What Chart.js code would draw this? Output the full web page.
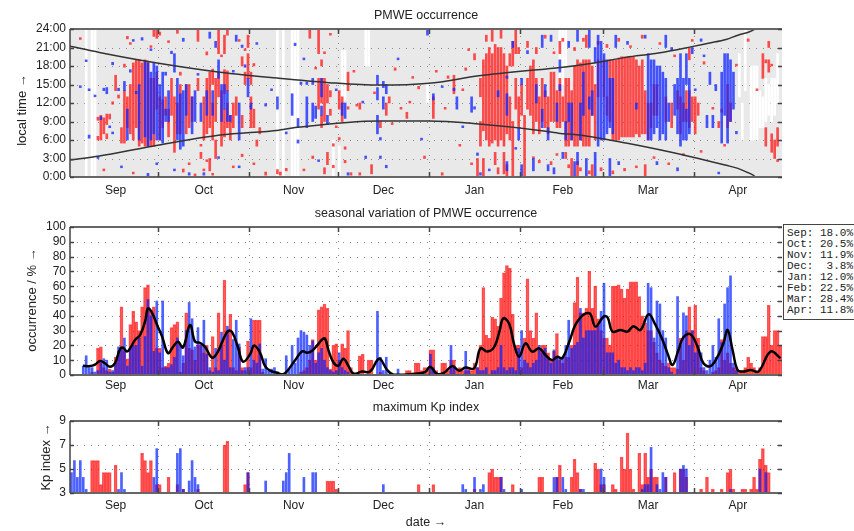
<!DOCTYPE html>
<html>
<head>
<meta charset="utf-8">
<script src="https://cdn.jsdelivr.net/npm/chart.js@4"></script>
<style>
  body { margin: 0; width: 854px; height: 531px; position: relative; overflow: hidden; background: #fff;
         font-family: "Liberation Sans", Arial, sans-serif; color: #222; }
  canvas { position: absolute; left: 0; }
  .ttl { position: absolute; left: 0; width: 852px; text-align: center; font-size: 12.5px; line-height: 14px; }
  .ytl { position: absolute; transform: translate(-50%, -50%) rotate(-90deg); white-space: nowrap; font-size: 13px; }
  #monthBox { position: absolute; left: 783px; top: 224px; width: 80px; height: 96px; box-sizing: border-box;
              border: 1px solid #444; padding: 3px 0 0 3px; font: 11px/11px "Liberation Mono", monospace;
              white-space: pre; background: #fff; }
</style>
</head>
<body>
<canvas id="pmwe" width="854" height="200" style="top:0px"></canvas>
<canvas id="season" width="854" height="200" style="top:195px"></canvas>
<canvas id="kp" width="854" height="120" style="top:395px"></canvas>

<div class="ttl" style="top:8px">PMWE occurrence</div>
<div class="ttl" style="top:206px">seasonal variation of PMWE occurrence</div>
<div class="ttl" style="top:400px">maximum Kp index</div>
<div class="ttl" style="top:515px">date →</div>
<div class="ytl" style="left:21px; top:110px">local time →</div>
<div class="ytl" style="left:31px; top:300px">occurrence / % →</div>
<div class="ytl" style="left:45px; top:457px">Kp index →</div>
<div id="monthBox"></div>

<script>
// days are counted from 1 Sep (day 0) to 1 May (day 242)
const monthNames = ['Sep', 'Oct', 'Nov', 'Dec', 'Jan', 'Feb', 'Mar', 'Apr'];
const monthStarts = [0, 30, 61, 91, 122, 153, 181, 212, 242];
const monthMid = [15.5, 45.5, 76, 106.5, 137.5, 167.5, 196.5, 227];
const monthPct = ['18.0', '20.5', '11.9', '3.8', '12.0', '22.5', '28.4', '11.8'];

// top panel: detection intervals [day, from h, to h]
const redSegs = [
  [9,6.0,6.6],[9,9.2,9.7],[10,6.0,10.0],[11,7.0,9.6],[12,6.2,7.0],[12,8.5,10.2],[13,9.4,10.2],[14,11.8,12.2],
  [15,14.0,16.5],[16,12.8,13.3],[17,5.5,8.0],[18,5.5,14.0],[18,17.8,18.3],[19,22.4,22.8],[19,8.0,13.0],
  [20,7.0,15.0],[20,21.5,21.8],[21,6.0,18.5],[22,8.0,19.0],[23,5.0,19.0],[24,5.5,18.5],[25,5.0,19.0],
  [26,5.0,18.8],[27,5.0,16.0],[28,5.0,16.0],[28,22.8,24.0],[29,11.0,17.0],[29,22.5,24.0],
  [30,6.0,13.0],[31,8.0,12.5],[32,10.0,13.0],[33,6.5,11.0],[34,10.0,16.0],[35,4.0,13.0],[36,7.0,12.0],
  [36,23.3,23.9],[37,7.0,15.0],[38,0.8,1.3],[39,7.0,15.0],[40,8.0,15.0],[41,9.0,13.0],[42,0.0,0.5],
  [43,22.0,24.0],[43,14.0,16.0],[44,3.0,4.0],[45,6.0,13.0],[46,7.0,16.0],[46,19.8,20.3],[47,8.0,17.0],
  [47,1.0,3.0],[48,15.0,17.5],[48,6.0,12.0],[49,3.0,6.0],[49,9.0,16.0],[50,20.0,24.0],[50,13.0,17.0],
  [51,5.0,14.0],[52,6.5,11.0],[52,20.0,23.0],[52,13.5,17.4],[53,14.0,17.2],[53,8.0,12.0],[54,6.0,10.0],
  [55,8.0,12.0],[56,10.0,13.0],[58,18.0,19.5],[58,8.0,10.0],[58,3.3,3.7],[59,15.0,17.0],[60,16.0,20.0],
  [60,21.0,23.0],[61,15.0,17.0],[61,8.0,13.0],[62,8.0,11.0],[62,18.0,18.4],[63,5.0,6.0],[64,7.0,8.0],
  [66,0.3,0.8],[70,0.5,1.2],[71,0.3,0.8],[73,1.0,1.4],[81,22.5,24.0],[82,3.0,3.4],[84,20.0,24.0],
  [84,11.0,16.0],[85,18.0,19.0],[85,12.0,16.0],[85,8.0,10.0],[86,0.5,1.5],[86,9.0,16.0],[87,12.0,15.0],
  [87,2.0,4.0],[88,10.0,11.0],[88,13.0,14.0],[89,5.0,5.4],[89,1.5,1.9],[91,11.0,14.0],[91,6.0,6.4],
  [92,9.0,13.0],[93,4.5,4.9],[93,2.3,2.7],[94,14.0,17.0],[94,11.0,11.4],[95,0.3,0.7],[98,11.0,12.0],
  [98,0.3,0.7],[102,0.5,2.0],[105,8.0,9.0],[107,10.0,12.0],[108,12.0,13.0],[110,17.3,17.7],[114,9.5,10.5],
  [115,12.0,12.3],[118,14.3,14.7],[120,3.0,3.4],[123,9.5,13.0],[126,0.3,0.7],[128,16.0,16.4],[130,13.5,16.5],
  [133,14.0,14.3],[134,17.3,17.7],[137,19.0,20.0],[138,0.0,3.0],[139,13.0,16.0],[139,5.0,9.0],[140,7.5,19.0],
  [140,0.0,3.0],[141,6.0,20.0],[142,5.0,21.0],[143,5.5,20.0],[143,22.0,24.0],[144,6.0,21.5],[145,5.0,21.0],
  [146,6.0,21.0],[146,22.5,24.0],[147,5.0,20.0],[147,0.5,4.0],[148,7.0,18.0],[148,0.0,2.0],[149,6.0,13.0],
  [150,0.0,9.0],[150,18.0,22.0],[151,11.0,16.0],[151,20.0,24.0],[152,8.0,13.0],[153,10.0,15.0],[154,0.0,10.0],
  [155,11.0,16.0],[156,10.0,18.0],[157,7.0,19.0],[158,9.0,16.0],[159,7.0,13.0],[159,2.3,2.7],[160,9.0,16.0],
  [161,8.0,14.0],[162,7.0,13.0],[163,9.0,17.0],[164,9.0,17.0],[165,8.0,14.0],[166,8.0,16.0],[166,20.0,22.0],
  [167,9.0,13.0],[168,5.0,16.0],[168,3.0,4.0],[169,5.0,16.0],[170,6.0,14.0],[170,0.0,3.0],[171,5.0,18.0],
  [172,5.0,19.0],[172,0.0,2.5],[173,6.0,18.5],[174,5.0,19.0],[175,5.0,19.0],[175,21.0,23.0],[176,5.0,19.0],
  [177,10.0,18.0],[177,0.0,2.0],[178,6.0,15.0],[179,13.0,19.0],[181,13.0,19.0],[182,10.0,13.0],[183,9.0,19.0],
  [184,6.0,19.0],[185,6.0,19.0],[186,6.0,19.3],[187,6.5,19.5],[188,6.5,19.5],[189,6.5,19.5],[190,6.5,19.5],
  [191,6.5,19.5],[192,7.0,19.0],[193,6.5,18.0],[194,7.0,19.0],[195,7.0,14.0],[195,0.0,2.0],[196,6.0,12.0],
  [197,8.0,12.0],[198,10.0,15.0],[199,10.0,15.0],[202,9.0,13.0],[204,8.0,12.0],[206,11.0,14.0],[207,7.0,13.0],
  [208,9.0,12.0],[209,9.0,14.0],[210,8.0,14.0],[210,19.0,21.0],[211,9.0,13.0],[212,7.0,13.0],[213,10.0,12.0],
  [215,18.3,18.7],[220,8.0,9.0],[221,10.5,11.0],[223,8.0,15.0],[224,9.0,12.0],[230,22.0,22.4],[235,16.0,20.0],
  [236,5.0,8.0],[236,18.5,19.0],[237,17.0,19.0],[237,21.0,22.0],[238,4.0,7.0],[239,3.0,6.0],[240,5.0,8.0],
  // scattered short detections
  [3,22.3,22.6],[11,1.0,1.3],[21,0.5,0.8],[27,21.0,21.3],[30,23.0,23.5],[33,21.8,22.1],[37,16.5,17.0],
  [40,2.0,2.3],[44,5.0,5.3],[45,1.0,1.3],[46,2.5,2.8],[48,0.3,0.6],[51,19.5,19.8],[53,23.0,24.0],[55,1.5,1.8],
  [57,22.0,22.3],[59,20.5,20.8],[62,2.0,2.3],[79,1.0,1.3],[83,17.5,17.8],[86,20.0,20.3],[88,23.0,23.3],
  [90,8.0,8.3],[96,17.0,17.3],[97,11.5,11.8],[103,13.5,13.8],[109,8.5,8.8],[112,11.0,11.3],[116,16.0,16.3],
  [124,17.0,17.3],[127,11.0,11.3],[132,5.0,5.3],[135,20.5,20.8],[136,2.0,2.3],[141,22.0,23.0],[144,2.0,4.0],
  [145,0.5,1.5],[149,18.0,20.0],[152,20.0,21.0],[155,21.0,22.0],[157,3.0,3.3],[158,20.0,21.0],[161,22.5,23.0],
  [163,2.0,2.5],[164,20.0,20.3],[165,3.5,3.8],[167,22.0,22.5],[169,1.5,2.0],[171,20.5,21.0],[173,1.0,1.5],
  [174,22.0,22.5],[176,0.5,1.0],[179,21.5,22.0],[180,1.0,1.5],[182,21.0,21.5],[184,0.5,1.0],[186,22.0,22.5],
  [188,1.0,1.4],[190,21.0,21.3],[192,1.5,1.8],[194,22.5,23.0],[198,3.0,3.3],[200,21.5,21.8],[203,2.0,2.3],
  [205,19.5,19.8],[208,3.5,3.8],[211,22.0,22.3],[214,4.0,4.3],[218,11.0,11.3],[222,5.0,5.3],[226,18.0,18.3],
  [233,14.0,14.3],[238,18.0,18.3],[240,2.5,2.8]
];
const blueSegs = [
  [5,18.7,19.0],[6,14.0,14.3],[6,6.3,6.8],[8,13.0,13.3],[10,9.3,9.8],[11,14.0,14.4],[12,13.5,14.5],
  [14,18.2,18.6],[14,7.0,7.3],[16,14.0,14.4],[17,1.5,1.8],[18,14.0,15.5],[19,6.0,11.0],[20,17.0,17.4],
  [22,13.5,13.9],[23,6.0,15.0],[24,22.2,22.6],[25,6.5,18.7],[26,5.0,18.5],[26,0.2,0.6],[27,6.0,17.0],
  [28,7.0,18.5],[29,6.0,18.0],[30,6.0,15.0],[31,5.5,17.0],[32,9.0,11.0],[33,9.0,14.0],[34,20.0,20.4],
  [35,17.0,20.0],[36,6.0,16.0],[37,4.5,13.5],[38,5.0,14.0],[39,10.0,15.0],[40,0.3,0.7],[41,7.0,13.0],
  [42,9.0,14.0],[44,9.0,12.0],[45,0.3,0.7],[46,10.0,14.0],[47,22.5,23.5],[48,10.0,14.0],[49,21.0,22.0],
  [50,16.0,19.0],[51,9.0,15.0],[52,11.0,15.0],[53,9.0,14.0],[54,9.0,10.0],[56,22.0,23.0],[57,6.0,12.0],
  [58,21.0,21.4],[59,17.8,18.2],[60,13.0,16.0],[61,11.0,12.0],[66,11.5,11.9],[70,11.0,13.0],[75,10.0,13.5],
  [76,21.3,21.7],[77,5.5,6.0],[77,8.0,9.5],[78,15.0,15.4],[80,8.0,13.0],[80,15.0,15.4],[82,9.0,12.0],
  [82,15.0,16.0],[83,9.5,11.5],[85,13.0,16.0],[85,10.0,11.5],[87,8.5,10.0],[92,10.0,12.0],[93,9.5,12.0],
  [94,0.3,0.7],[100,3.0,3.4],[104,15.0,16.5],[104,12.5,14.5],[104,7.0,10.0],[105,6.0,6.4],[105,3.0,3.4],
  [106,14.5,15.5],[106,11.0,13.0],[107,13.5,15.0],[107,1.5,1.9],[121,23.0,24.0],[123,12.5,13.5],
  [130,14.0,14.4],[131,11.0,13.0],[136,10.5,13.0],[137,11.0,11.4],[138,3.5,3.9],[139,0.3,0.7],
  [148,10.0,13.5],[148,16.0,16.4],[148,1.0,2.5],[150,21.0,22.0],[152,6.0,8.0],[153,15.0,16.0],[153,0.0,2.0],
  [158,12.0,15.0],[160,8.0,11.0],[160,21.0,23.0],[162,6.0,8.0],[162,1.0,2.0],[165,9.0,12.0],[166,17.0,19.0],
  [166,14.0,15.0],[168,6.0,9.0],[169,9.0,12.0],[170,6.0,12.0],[171,0.0,2.5],[172,22.0,24.0],[173,6.0,12.0],
  [174,10.0,17.0],[175,0.0,3.0],[176,21.0,24.0],[177,10.0,14.0],[178,0.0,4.0],[179,5.0,23.0],[180,6.0,22.0],
  [181,6.0,20.0],[182,7.0,19.0],[183,8.0,16.0],[183,0.0,3.0],[184,7.0,16.0],[185,21.0,23.0],[196,6.0,20.0],
  [197,6.0,19.0],[198,7.0,19.0],[199,8.0,18.0],[200,6.0,18.0],[201,7.0,17.0],[202,21.0,23.0],[202,6.0,16.0],
  [203,9.0,12.0],[205,10.0,15.0],[206,7.0,16.0],[207,5.0,20.0],[208,6.0,16.0],[209,15.0,20.0],[209,6.0,11.0],
  [210,7.0,16.0],[211,20.0,21.0],[214,22.0,22.4],[216,8.0,10.0],[217,15.0,17.0],[218,8.0,10.0],
  [219,14.0,15.0],[221,5.5,17.0],[222,10.0,20.0],[223,5.5,20.0],[224,9.0,19.0],[225,11.0,17.0],[226,7.0,7.4],
  // scattered short detections
  [3,14.5,14.8],[9,3.0,3.3],[13,8.0,8.3],[21,22.0,22.3],[27,20.5,20.8],[29,2.0,2.3],[32,16.5,17.0],
  [35,1.0,1.3],[38,22.0,22.5],[43,16.5,16.8],[50,3.0,3.3],[55,17.0,17.3],[57,1.5,1.8],[63,21.5,21.8],
  [68,14.0,14.3],[73,7.0,7.3],[79,19.0,19.3],[84,2.5,2.8],[90,14.0,14.3],[99,12.0,12.3],[111,19.0,19.3],
  [119,6.0,6.3],[126,14.5,14.8],[133,8.0,8.3],[142,1.0,1.3],[145,13.0,14.0],[151,4.5,4.8],[155,20.0,20.5],
  [157,1.0,3.0],[161,13.0,15.0],[163,22.0,23.0],[164,0.5,1.5],[167,3.0,4.0],[169,21.0,22.0],[172,2.0,4.0],
  [176,11.0,13.0],[178,18.5,21.0],[186,2.0,2.5],[189,21.5,22.0],[192,11.0,12.0],[195,22.5,23.0],[199,2.0,2.5],
  [204,20.5,21.0],[206,1.0,1.5],[212,14.0,14.3],[215,19.5,19.8],[220,0.5,0.8]
];
// hours without radar data (white in the top panel)
const noDataSegs = [
  [5,0,24],[7,0,24],[8,0,24],[70,0,24],[72,0,24],[75,0,24],[76,0,24],[77,0,24],[89,0,6],[91,0,5],
  [92,12.5,20.5],[93,12.5,20.5],[100,18,24],[101,18,24],[121,12,15],[166,15,24],[167,15,24],[168,18,24],
  [227,13,20],[228,6,12],[229,14,24],[231,6,18],[232,6,18],[233,6,18],[234,8,14],[235,8,13],[236,9,16],
  [237,10,15],[238,9,16],[239,10,16],[240,12,20]
];
// boundary curves (local time)
const upperDays = [0, 10, 27, 51, 71, 88, 105, 122, 139, 159, 166, 177, 189, 200, 211, 217, 223, 227, 231, 232.5, 233.5];
const upperHours = [21.2, 20.2, 18.7, 17.0, 16.0, 15.3, 14.9, 15.2, 16.4, 17.4, 17.7, 18.4, 19.4, 20.1, 21.1, 21.7, 22.3, 23.0, 23.55, 23.9, 24.2];
const lowerDays = [0, 10, 27, 51, 71, 78, 105, 122, 139, 159, 166, 173, 189, 211, 223, 227, 230, 232.5, 233.5];
const lowerHours = [2.75, 3.4, 4.9, 6.8, 7.6, 8.1, 9.1, 9.1, 8.6, 7.6, 7.1, 6.8, 5.5, 3.3, 1.9, 1.4, 0.8, 0.2, -0.3];

// middle panel: daily occurrence in %, one value per day from 1 Sep
const redPct = [
  0,0,0,0,0,0,0,2,0,18, 19,5,3,4,2,12,16,46,16,11, 34,43,36,30,46,59,61,44,46,18,
  18,5,6,8,32,34,36,2,8,42, 18,17,10,20,21,15,20,3,26,5, 42,20,64,30,41,5,3,19,5,3,
  23,5,37,37,37,2,0,0,0,0, 0,0,0,0,0,0,0,0,2,3, 5,10,24,10,44,46,48,45,4,20,
  21,10,21,18,30,5,0,0,13,14, 0,10,10,0,0,2,0,0,0,0, 0,0,0,0,3,3,0,8,8,3,
  5,5,17,17,3,0,8,8,3,10, 10,3,5,3,3,5,3,8,5,20, 59,27,25,39,38,33,52,69,74,72,
  41,20,20,5,25,65,30,25,42,18, 20,20,15,10,16,28,10,8,12,12, 20,49,66,42,42,45,70,45,60,38,
  30,25,25,20,60,60,61,58,52,58, 63,63,63,53,40,35,30,30,22,15, 10,8,6,8,5,5,4,25,10,30,
  46,30,47,25,5,3,0,0,2,3, 5,24,10,15,8,5,5,3,3,5, 12,8,5,3,5,26,26,47,20,30,
  30,20
];
const bluePct = [
  0,0,0,0,6,13,5,5,2,3, 8,11,10,2,3,8,19,18,25,6, 18,20,20,25,6,26,51,40,16,50,
  15,50,5,5,7,12,25,20,13,30, 49,38,19,32,20,37,14,5,2,18, 3,29,10,33,5,24,37,21,3,5,
  5,38,10,8,21,4,11,3,4,5, 2,1,0,13,4,20,8,25,30,29, 27,20,23,8,15,18,10,5,3,2,
  3,15,5,3,2,0,0,0,0,0, 0,0,0,0,43,12,3,12,0,0, 0,4,0,0,0,0,0,0,0,0,
  0,0,14,5,0,0,0,0,0,20, 6,0,0,0,16,3,0,0,5,3, 3,5,0,3,3,5,20,5,3,5,
  5,3,18,30,10,8,5,8,10,20, 15,18,12,8,17,12,12,12,20,37, 18,20,22,45,25,30,30,30,30,33,
  43,62,15,15,15,8,10,5,5,3, 5,3,5,5,3,8,62,59,25,50, 48,30,25,5,2,0,53,20,42,40,
  20,30,15,20,15,5,3,10,20,12, 38,22,48,59,67,8,3,0,0,0, 0,0,0,0,0,0,0,0,0,0,
  0,0
];
// smoothed mean curve
const meanDays = [4.4,6.8,8.5,10.2,11.9,13.6,15.3,17.0,18.0,19.4, 20.4,22.1,23.8,25.5,26.5,27.9,29.6,31.3,33.3,35.0,
  36.7,38.4,40.8,42.5,44.2,45.9,48.3,50.0,52.0,53.7, 55.1,57.1,58.8,61.2,62.6,64.6,66.3,68.0,70.4,72.4,
  74.1,76.5,78.9,80.6,82.3,84.0,85.7,86.7,87.8,89.5, 91.2,92.9,94.6,96.3,99.3,102.0,104.4,105.4,107.8,109.9,
  116.3,120.7,122.4,124.8,127.2,129.9,132.3,134.4,137.4,139.5, 141.8,144.2,145.9,147.3,149.3,151.0,152.7,154.8,157.1,159.5,
  161.6,163.9,165.6,167.3,169.7,172.4,176.5,178.6,181.3,182.7, 184.4,187.1,189.5,191.5,193.9,196.6,199.0,201.4,203.1,204.8,
  206.8,208.5,210.9,213.3,215.3,217.7,220.1,222.1,223.5,225.2, 226.9,228.9,231.3,234.0,238.1,241.5];
const meanVals = [6.3,6,7,9.5,7.9,5.6,8,17.6,18.5,15.8, 18,23.6,27,36,45,42,33.8,26,14.8,19,
  22.5,18.6,33.8,22.5,21.8,19,11.7,14.8,23.6,29.7, 29,18.6,9,14,20,15,6,3,1.5,0.5,
  3.4,10,16,15,16.4,20,24,24.5,17,8.6, 6.3,11,6.3,1,2.3,2.3,10,11,3.4,0.3,
  0.7,2,5.6,0.7,1.6,6,2.9,5,4.5,18, 15.8,19,29,38.3,34.5,20.3,12.4,21.4,15.8,18,
  13.5,10,12.4,11.3,22.5,36,41.7,32.7,39.4,39, 29.3,30.4,29.3,33,30.4,41,33.8,23.6,14.6,6.8,
  16.9,25.5,27.5,19,7.9,6,12.4,21.4,30.4,16.9, 3.4,2.3,3.4,2.3,15.8,11.3];

// bottom panel: maximum Kp on PMWE days
const kpRedDays = [7,8,9,10,11,12,13,15,24,25,26,27,29,30,33,36,38,43,52,53,59,60,87,88,89,90,118,123,137,
  142,143,144,145,146,150,159,160,165,166,170,171,172,173,178,179,180,181,184,185,187,188,189,190,191,
  193,194,195,196,197,198,199,202,205,207,208,209,214,216,218,221,223,224,225,228,229,231,232,233,234,235,236,237];
const kpRedVals = [5.7,5.7,5.7,3.7,4.7,4.7,4.7,5.3,6.3,5.7,4.7,5.7,3.7,3.7,4.3,3.7,3.3,3.3,7.0,7.3,3.7,4.7,4,4,4,3.3,3.7,3.7,3.3,
  4.7,5.0,4.3,4.3,4.3,3.7,4.3,4.3,4.3,5.3,4.3,5.8,4.7,3.3,5.5,5.0,3.7,3.7,3.7,3.3,6.0,5.0,8.0,5.0,3.3,
  6.3,3.7,6.3,4.3,5.0,4.3,4.3,4.3,4.7,5.0,5.0,4.3,3.3,4.3,3.3,3.3,4.7,5.0,3.3,3.3,3.3,3.3,4.3,3.3,5.8,6.7,5.3,4.7];
const kpBlueDays = [0,1,2,3,4,5,16,17,18,28,29,36,37,38,40,41,42,43,60,66,72,73,74,79,82,83,106,133,134,137,139,140,
  146,147,153,164,165,167,168,173,174,180,181,194,195,196,197,199,200,201,202,207,208,209,224,234,236];
const kpBlueVals = [4.7,5.7,4.3,5.7,4.3,3.3,3.3,4.7,3.3,4.3,6.7,6.3,6.7,3.3,4.0,5.7,4.3,3.7,4.7,4.0,4.0,4.7,6.3,4.3,4.7,4.7,3.7,3.7,3.3,4.3,3.3,3.7,
  4.3,3.3,3.3,4.3,4.3,4.3,3.3,3.3,3.3,5.0,4.3,3.3,3.7,3.7,6.8,3.7,3.3,4.7,4.3,5.0,5.3,5.0,3.3,5.0,4.7];

document.getElementById('monthBox').textContent =
  monthNames.map((m, i) => m + ': ' + monthPct[i].padStart(4, ' ') + '%').join('\n');

Chart.defaults.font.family = '"Liberation Sans", Arial, sans-serif';
Chart.defaults.font.size = 12;
Chart.defaults.color = '#222';

// gray fill, dotted grid, frame and inward ticks
const panelFrame = {
  id: 'panelFrame',
  beforeDraw(chart, args, opts) {
    const { ctx, chartArea: a } = chart;
    if (!opts.fill) return;
    ctx.save();
    ctx.fillStyle = opts.fill;
    ctx.fillRect(a.left, a.top, a.right - a.left, a.bottom - a.top);
    ctx.restore();
  },
  beforeDatasetsDraw(chart, args, opts) {
    const { ctx, chartArea: a, scales: { x, y } } = chart;
    ctx.save();
    ctx.strokeStyle = '#8a8a8a';
    ctx.lineWidth = 1;
    ctx.setLineDash([1, 6]);
    ctx.beginPath();
    opts.yGrid.forEach(v => {
      const py = Math.round(y.getPixelForValue(v)) + 0.5;
      ctx.moveTo(a.left, py); ctx.lineTo(a.right, py);
    });
    monthStarts.slice(1, -1).forEach(v => {
      const px = Math.round(x.getPixelForValue(v)) + 0.5;
      ctx.moveTo(px, a.top); ctx.lineTo(px, a.bottom);
    });
    ctx.stroke();
    ctx.restore();
  },
  afterDatasetsDraw(chart) {
    const { ctx, chartArea: a, scales: { x, y } } = chart;
    ctx.save();
    ctx.strokeStyle = '#666';
    ctx.lineWidth = 2;
    ctx.beginPath();
    ctx.moveTo(a.left, a.top); ctx.lineTo(a.right, a.top);
    ctx.moveTo(a.left, a.bottom); ctx.lineTo(a.right, a.bottom);
    ctx.stroke();
    ctx.strokeStyle = '#444';
    ctx.lineWidth = 1.5;
    ctx.beginPath();
    ctx.moveTo(a.left, a.top); ctx.lineTo(a.left, a.bottom);
    monthStarts.slice(1, -1).forEach(v => {
      const px = Math.round(x.getPixelForValue(v)) + 0.5;
      ctx.moveTo(px, a.top); ctx.lineTo(px, a.top + 5);
      ctx.moveTo(px, a.bottom); ctx.lineTo(px, a.bottom - 5);
    });
    y.ticks.forEach(t => {
      const py = Math.round(y.getPixelForValue(t.value)) + 0.5;
      ctx.moveTo(a.left, py); ctx.lineTo(a.left + 4, py);
      ctx.moveTo(a.right - 4, py); ctx.lineTo(a.right, py);
    });
    ctx.stroke();
    ctx.restore();
  }
};

function dateAxis(pad, height) {
  return {
    type: 'linear', min: 0, max: 242, offset: false,
    grid: { display: false, drawTicks: false }, border: { display: false },
    afterBuildTicks: (scale) => { scale.ticks = monthMid.map(v => ({ value: v })); },
    afterFit: (scale) => { scale.height = height; },
    ticks: { autoSkip: false, maxRotation: 0, padding: pad, callback: (v, i) => monthNames[i] }
  };
}

function valueAxis(min, max, step, fmt) {
  return {
    min: min, max: max,
    grid: { display: false, drawTicks: false }, border: { display: false },
    afterFit: (scale) => { scale.width = 70; },
    ticks: { stepSize: step, padding: 4, autoSkip: false, callback: fmt || (v => v) }
  };
}

function baseOptions(top, xPad, xHeight, yAxis, frameOpts) {
  return {
    responsive: false, animation: false, events: [],
    layout: { padding: { top: top, right: 72, left: 0, bottom: 0 } },
    plugins: { legend: { display: false }, tooltip: { enabled: false }, panelFrame: frameOpts },
    scales: { x: dateAxis(xPad, xHeight), y: yAxis }
  };
}

function segData(segs) {
  return segs.map(s => ({ x: s[0] + 0.5, y: [s[1], s[2]] }));
}
function dayData(vals) {
  return vals.map((v, d) => ({ x: d + 0.5, y: v }));
}
function pairData(days, vals) {
  return days.map((d, i) => ({ x: d, y: vals[i] }));
}

new Chart(document.getElementById('pmwe'), {
  type: 'bar',
  plugins: [panelFrame],
  data: {
    datasets: [
      { type: 'line', data: pairData(upperDays, upperHours), borderColor: '#333', borderWidth: 1.5,
        pointRadius: 0, cubicInterpolationMode: 'monotone', order: 0 },
      { type: 'line', data: pairData(lowerDays, lowerHours), borderColor: '#333', borderWidth: 1.5,
        pointRadius: 0, cubicInterpolationMode: 'monotone', order: 0 },
      { data: segData(blueSegs), backgroundColor: 'rgba(20,40,255,0.78)', barThickness: 2, grouped: false, order: 1 },
      { data: segData(redSegs), backgroundColor: 'rgba(255,20,20,0.75)', barThickness: 2, grouped: false, order: 2 },
      { data: segData(noDataSegs), backgroundColor: '#ffffff', barThickness: 2, grouped: false, order: 3 }
    ]
  },
  options: baseOptions(29, 6, 23, valueAxis(0, 24, 3, v => v + ':00'),
    { fill: '#e9e9e9', yGrid: [3, 6, 9, 12, 15, 18, 21] })
});

new Chart(document.getElementById('season'), {
  type: 'bar',
  plugins: [panelFrame],
  data: {
    datasets: [
      { type: 'line', data: pairData(meanDays, meanVals), borderColor: '#000', borderWidth: 2.5,
        pointRadius: 0, tension: 0.4, order: 0 },
      { data: dayData(bluePct), backgroundColor: 'rgba(0,30,255,0.7)', barThickness: 2, grouped: false, order: 1 },
      { data: dayData(redPct), backgroundColor: 'rgba(255,0,0,0.4)', borderColor: 'rgba(255,0,0,0.65)',
        borderWidth: 1, barThickness: 3, grouped: false, order: 2 }
    ]
  },
  options: baseOptions(32, 3, 20, valueAxis(0, 100, 10),
    { yGrid: [10, 20, 30, 40, 50, 60, 70, 80, 90] })
});

new Chart(document.getElementById('kp'), {
  type: 'bar',
  plugins: [panelFrame],
  data: {
    datasets: [
      { data: pairData(kpBlueDays.map(d => d + 0.5), kpBlueVals), backgroundColor: 'rgba(0,30,255,0.7)',
        barThickness: 2, grouped: false, order: 1 },
      { data: pairData(kpRedDays.map(d => d + 0.5), kpRedVals), backgroundColor: 'rgba(255,0,0,0.4)',
        borderColor: 'rgba(255,0,0,0.65)', borderWidth: 1, barThickness: 3, grouped: false, order: 2 }
    ]
  },
  options: baseOptions(26, 5, 22, valueAxis(3, 9, 2), { yGrid: [5, 7] })
});
</script>
</body>
</html>
